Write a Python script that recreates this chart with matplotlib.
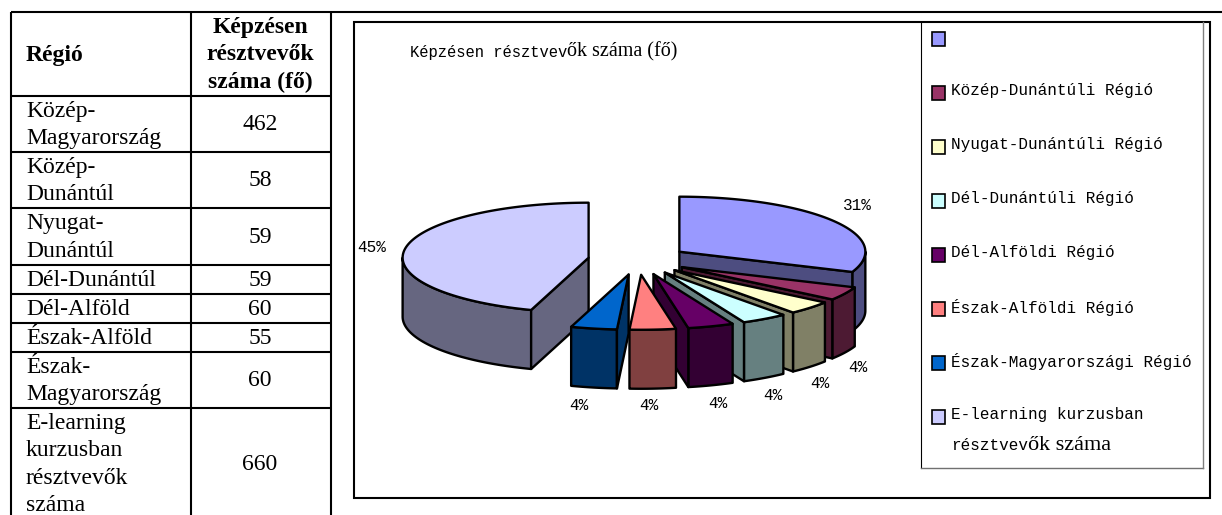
import numpy as np
import matplotlib
matplotlib.use('Agg')
import matplotlib.pyplot as plt
from matplotlib.patches import Polygon, Rectangle
from matplotlib.colors import to_rgb

regions = ['Közép-\nMagyarország', 'Közép-\nDunántúl', 'Nyugat-\nDunántúl', 'Dél-Dunántúl',
           'Dél-Alföld', 'Észak-Alföld', 'Észak-\nMagyarország', 'E-learning\nkurzusban\nrésztvevők\nszáma']
counts = [462, 58, 59, 59, 60, 55, 60, 660]
shares = [31, 4, 4, 4, 4, 4, 4, 45]
colors = ['#9999FF', '#993366', '#FFFFCC', '#CCFFFF', '#660066', '#FF8080', '#0066CC', '#CCCCFF']
legend_names = ['', 'Közép-Dunántúli Régió', 'Nyugat-Dunántúli Régió', 'Dél-Dunántúli Régió',
                'Dél-Alföldi Régió', 'Észak-Alföldi Régió', 'Észak-Magyarországi Régió',
                'E-learning kurzusban']

SERIF = 'Liberation Serif'
MONO = 'Liberation Mono'
BLACK = '#000000'

# layout, in pixels of the 1222x515 page
row_lines = [12, 96, 152, 208, 265, 294, 323, 352, 408]
label_xy = [(857, 205), (858, 367), (820, 384), (773, 395), (718, 403), (649, 405), (579, 405), (372, 247)]
legend_y = [39, 93, 147, 201, 255, 309, 363, 417]
CX, CY, RX, RY, DEPTH, EXPLODE = 638, 260, 186, 55, 59, 50

fig = plt.figure(figsize=(12.22, 5.15), dpi=100)
ax = fig.add_axes([0, 0, 1, 1])
ax.set_xlim(0, 1222)
ax.set_ylim(515, 0)
ax.axis('off')

# table on the left
for y in row_lines:
    ax.plot([11, 331], [y, y], color=BLACK, lw=1.5, solid_capstyle='butt')
ax.plot([331, 1222], [12, 12], color=BLACK, lw=1.5, solid_capstyle='butt')
for x in [11, 191, 331]:
    ax.plot([x, x], [12, 515], color=BLACK, lw=1.5, solid_capstyle='butt')

ax.text(26, 56, 'Régió', family=SERIF, fontsize=17, weight='bold', va='center')
ax.text(260, 55, 'Képzésen\nrésztvevők\nszáma (fő)', family=SERIF, fontsize=17, weight='bold',
        va='center', ha='center', linespacing=1.4)
row_edges = row_lines[1:] + [519]
for i in range(len(regions)):
    mid = (row_edges[i] + row_edges[i + 1]) / 2
    ax.text(26, mid + 1, regions[i], family=SERIF, fontsize=17, va='center', linespacing=1.4)
    ax.text(260, mid + 1, str(counts[i]), family=SERIF, fontsize=17, va='center', ha='center')

# chart frame and legend frame
ax.add_patch(Rectangle((354, 22), 856, 476, fill=False, ec=BLACK, lw=1.5))
ax.plot([921, 921], [22, 468], color=BLACK, lw=0.8)
ax.plot([921, 1203], [468, 468], color='#707070', lw=1)
ax.plot([1203, 1203], [22, 468], color='#808080', lw=1)

title = ax.text(410, 53, 'Képzésen résztvev', family=MONO, fontsize=11.2, va='center')
fig.canvas.draw()
end = ax.transData.inverted().transform(title.get_window_extent().corners())[:, 0].max()
ax.text(end, 52, 'ők száma (fő)', family=SERIF, fontsize=14.5, va='center')


# exploded 3D pie, angles run clockwise from 12 o'clock
def rim(theta, dx, dy, drop=0):
    return np.column_stack([dx + RX * np.sin(theta), dy - RY * np.cos(theta) + drop])


edges = np.radians(np.cumsum([0] + shares) / sum(shares) * 360)


def draw_slice(i):
    a, b = edges[i], edges[i + 1]
    mid = (a + b) / 2
    dx = CX + EXPLODE * np.sin(mid)
    dy = CY - EXPLODE * RY / RX * np.cos(mid)
    top = np.array(to_rgb(colors[i]))
    side = tuple(top / 2)
    style = dict(ec=BLACK, lw=1.7, joinstyle='round')
    apex = np.array([dx, dy])
    drop = np.array([0, DEPTH])

    # outer wall only where the rim faces the viewer
    lo, hi = max(a, np.pi / 2), min(b, 3 * np.pi / 2)
    if hi > lo:
        t = np.linspace(lo, hi, 60)
        upper = rim(t, dx, dy)
        ax.add_patch(Polygon(np.vstack([upper, (upper + drop)[::-1]]), fc=side, **style))
    # cut faces
    if np.sin(b) > 0:
        p = rim(b, dx, dy)[0]
        ax.add_patch(Polygon([apex, p, p + drop, apex + drop], fc=side, **style))
    if np.sin(a) < 0:
        p = rim(a, dx, dy)[0]
        ax.add_patch(Polygon([apex, p, p + drop, apex + drop], fc=side, **style))
    t = np.linspace(a, b, 120)
    ax.add_patch(Polygon(np.vstack([apex, rim(t, dx, dy)]), fc=top, **style))


for i in [0, 1, 2, 3, 4, 7, 6, 5]:
    draw_slice(i)

for i, (x, y) in enumerate(label_xy):
    ax.text(x, y, f'{shares[i]}%', family=MONO, fontsize=11.5, ha='center', va='center')

# legend
for i, y in enumerate(legend_y):
    ax.add_patch(Rectangle((932, y - 7), 13, 14, fc=colors[i], ec=BLACK, lw=1.2))
    if legend_names[i]:
        ax.text(951, y - 2, legend_names[i], family=MONO, fontsize=11.5, va='center')
second = ax.text(951, 446, 'résztvev', family=MONO, fontsize=11.5, va='center')
fig.canvas.draw()
end = ax.transData.inverted().transform(second.get_window_extent().corners())[:, 0].max()
ax.text(end, 445, 'ők száma', family=SERIF, fontsize=16, va='center')

fig.savefig('out.png', dpi=100)
